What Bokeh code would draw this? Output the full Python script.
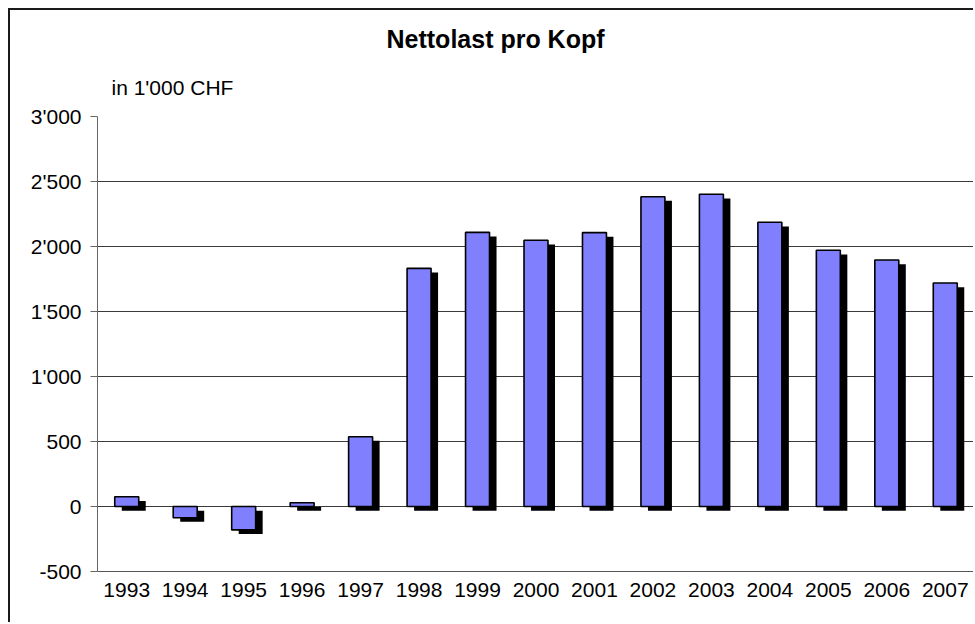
from bokeh.plotting import figure
from bokeh.models import Range1d, FixedTicker, Title, ColumnDataSource
from bokeh.embed import file_html
from bokeh.resources import INLINE

years = [1993, 1994, 1995, 1996, 1997, 1998, 1999, 2000, 2001, 2002, 2003, 2004, 2005, 2006, 2007]
values = [75, -86, -180, 29, 537, 1832, 2109, 2048, 2107, 2383, 2402, 2186, 1971, 1896, 1719]
y_ticks = [-500, 0, 500, 1000, 1500, 2000, 2500, 3000]
title_text = "Nettolast pro Kopf"
unit_text = "in 1'000 CHF"

FONT = "Liberation Sans"
SHADOW_DX = 0.12   # in year units (~7px)
SHADOW_DY = 32     # in value units (~4px)
BAR_W = 0.41

p = figure(width=965, height=614, output_backend="svg", toolbar_location=None,
           x_range=Range1d(1992.5, 2007.5), y_range=Range1d(-500, 3000),
           min_border_left=87, min_border_right=1, min_border_top=106, min_border_bottom=53)
p.styles = {"border-left": "2px solid #1a1a1a", "border-top": "2px solid #1a1a1a",
            "margin": "8px 0 0 8px"}
p.outline_line_color = None
p.background_fill_color = "white"
p.border_fill_color = "white"

src = ColumnDataSource(dict(
    x=years,
    top=[max(v, 0) for v in values],
    bottom=[min(v, 0) for v in values],
    sx=[y + SHADOW_DX for y in years],
    stop=[max(v, 0) - SHADOW_DY for v in values],
    sbottom=[min(v, 0) - SHADOW_DY for v in values],
))

p.vbar(x="sx", top="stop", bottom="sbottom", width=BAR_W, source=src,
       fill_color="black", line_color=None)
p.vbar(x="x", top="top", bottom="bottom", width=BAR_W, source=src,
       fill_color="#8080FF", line_color="black", line_width=1.6)

# axes
p.yaxis.ticker = FixedTicker(ticks=y_ticks)
p.yaxis.major_label_overrides = {t: f"{t:,}".replace(",", "'") for t in y_ticks}
p.yaxis.major_tick_out = 7
p.yaxis.major_tick_in = 0
p.yaxis.minor_tick_line_color = None
p.yaxis.major_label_standoff = 9
p.yaxis.axis_line_color = "#666666"
p.yaxis.major_tick_line_color = "#666666"
p.yaxis.major_label_text_font = FONT
p.yaxis.major_label_text_font_size = "21px"
p.yaxis.major_label_text_color = "black"

p.xaxis.ticker = FixedTicker(ticks=years)
p.xaxis.major_label_overrides = {y: str(y) for y in years}
p.xaxis.major_tick_out = 0
p.xaxis.major_tick_in = 0
p.xaxis.minor_tick_line_color = None
p.xaxis.major_label_standoff = 11
p.xaxis.axis_line_color = "#555555"
p.xaxis.major_label_text_font = FONT
p.xaxis.major_label_text_font_size = "21px"
p.xaxis.major_label_text_color = "black"

p.xgrid.grid_line_color = None
p.ygrid.ticker = FixedTicker(ticks=y_ticks)
p.ygrid.grid_line_color = "#3a3a3a"
p.ygrid.grid_line_width = 1

p.add_layout(Title(text=unit_text, align="left", offset=14, standoff=36,
                   text_font=FONT, text_font_size="21px", text_font_style="normal",
                   text_color="black"), "above")
p.add_layout(Title(text=title_text, align="left", offset=289, standoff=5,
                   text_font=FONT, text_font_size="25px", text_font_style="bold",
                   text_color="black"), "above")

open("out.html", "w").write(file_html(p, INLINE))
